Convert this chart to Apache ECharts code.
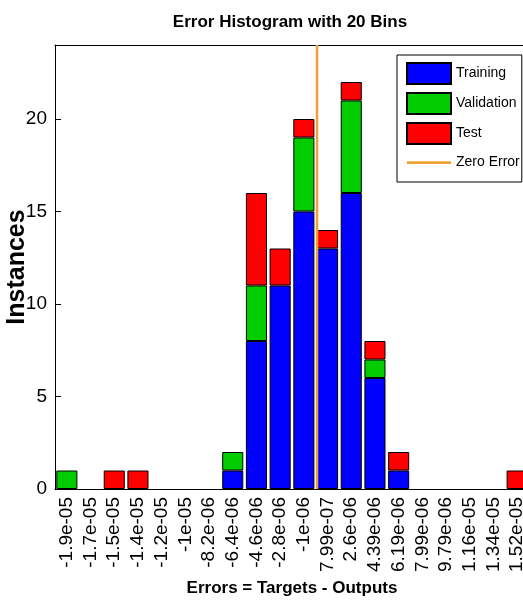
<!DOCTYPE html>
<html>
<head>
<meta charset="utf-8">
<script src="https://cdn.jsdelivr.net/npm/echarts@6/dist/echarts.min.js"></script>
<style>
  html, body { margin: 0; padding: 0; background: #fff; }
  #chart { width: 523px; height: 604px; }
</style>
</head>
<body>
<div id="chart"></div>
<script>
// Bin centres of the error histogram (as printed on the axis)
const binLabels = ['-1.9e-05', '-1.7e-05', '-1.5e-05', '-1.4e-05', '-1.2e-05', '-1e-05', '-8.2e-06',
  '-6.4e-06', '-4.6e-06', '-2.8e-06', '-1e-06', '7.99e-07', '2.6e-06', '4.39e-06', '6.19e-06',
  '7.99e-06', '9.79e-06', '1.16e-05', '1.34e-05', '1.52e-05'];

// Instances per bin for each data split
const training   = [0, 0, 0, 0, 0, 0, 0, 1, 8, 11, 15, 13, 16, 6, 1, 0, 0, 0, 0, 0];
const validation = [1, 0, 0, 0, 0, 0, 0, 1, 3, 0, 4, 0, 5, 1, 0, 0, 0, 0, 0, 0];
const test       = [0, 0, 1, 1, 0, 0, 0, 0, 5, 2, 1, 1, 1, 1, 1, 0, 0, 0, 0, 1];

const yTicks = [0, 5, 10, 15, 20];
const yMax = 24;
const zeroError = 0;

// Position of the zero-error value in bin-index units (interpolated between bin centres)
const centres = binLabels.map(Number);
let zeroPos = 0;
for (let i = 0; i < centres.length - 1; i++) {
  if (centres[i] <= zeroError && zeroError < centres[i + 1]) {
    zeroPos = i + (zeroError - centres[i]) / (centres[i + 1] - centres[i]);
    break;
  }
}

const font = '"Liberation Sans", Arial, sans-serif';
const orange = '#eea236';

const bar = (name, values, color) => ({
  name, type: 'bar', stack: 'split',
  xAxisIndex: 0, yAxisIndex: 0,
  barCategoryGap: '11%',
  data: values.map(v => (v === 0 ? '-' : v)),
  itemStyle: { color, borderColor: '#000', borderWidth: 1 },
  emphasis: { disabled: true },
  animation: false
});

const chart = echarts.init(document.getElementById('chart'), null, { renderer: 'canvas' });

chart.setOption({
  animation: false,
  title: {
    text: 'Error Histogram with 20 Bins',
    left: 285, top: 9, textAlign: 'center',
    textStyle: { fontFamily: font, fontSize: 17, fontWeight: 'bold', color: '#000' }
  },
  legend: {
    orient: 'vertical',
    left: 397, top: 55,
    padding: [7, 2, 9, 9],
    itemWidth: 44, itemHeight: 21, itemGap: 7,
    backgroundColor: '#fff',
    borderColor: '#000', borderWidth: 1, borderRadius: 0,
    textStyle: { fontFamily: font, fontSize: 14, color: '#000' },
    data: [
      { name: 'Training', icon: 'rect' },
      { name: 'Validation', icon: 'rect' },
      { name: 'Test', icon: 'rect' },
      // thin horizontal stroke centred in a 44x21 box
      { name: 'Zero Error', icon: 'path://M0,0h0.01v0.01h-0.01z M0,9.3h44v2.6h-44z M43.99,20.99h0.01v0.01h-0.01z' }
    ]
  },
  grid: { left: 55, top: 45, width: 474, height: 444, outerBoundsMode: 'none', containLabel: false },
  xAxis: [
    {
      type: 'category', position: 'bottom', data: binLabels,
      name: 'Errors = Targets - Outputs', nameLocation: 'middle', nameGap: 91,
      nameMoveOverlap: false,
      nameTextStyle: { fontFamily: font, fontSize: 17, fontWeight: 'bold', color: '#000' },
      axisLine: { onZero: false, lineStyle: { color: '#000', width: 1 } },
      axisTick: { inside: true, alignWithLabel: true, length: 6, lineStyle: { color: '#000' } },
      axisLabel: { rotate: 90, interval: 0, margin: 8, fontFamily: font, fontSize: 19, color: '#000' },
      splitLine: { show: false }
    },
    {
      type: 'category', position: 'top', data: binLabels,
      axisLine: { onZero: false, lineStyle: { color: '#000', width: 1 } },
      axisTick: { inside: true, alignWithLabel: true, length: 6, lineStyle: { color: '#000' } },
      axisLabel: { show: false },
      splitLine: { show: false }
    },
    {
      type: 'value', min: -0.5, max: binLabels.length - 0.5, show: false
    }
  ],
  yAxis: [{
    type: 'value', min: 0, max: yMax, interval: yTicks[1] - yTicks[0],
    name: 'Instances', nameLocation: 'middle', nameGap: 25,
    nameMoveOverlap: false,
    nameTextStyle: { fontFamily: font, fontSize: 25, fontWeight: 'bold', color: '#000' },
    axisLine: { show: true, onZero: false, lineStyle: { color: '#000', width: 1 } },
    axisTick: { inside: true, length: 6, lineStyle: { color: '#000' } },
    axisLabel: {
      fontFamily: font, fontSize: 19, color: '#000', margin: 8,
      showMaxLabel: false,
      formatter: v => (yTicks.includes(v) ? String(v) : '')
    },
    splitLine: { show: false }
  }],
  series: [
    bar('Training', training, '#0000ff'),
    bar('Validation', validation, '#00cc00'),
    bar('Test', test, '#ff0000'),
    {
      name: 'Zero Error', type: 'line',
      xAxisIndex: 2, yAxisIndex: 0,
      symbol: 'none', z: 5,
      data: [[zeroPos, 0], [zeroPos, yMax]],
      lineStyle: { color: orange, width: 2.5 },
      itemStyle: { color: orange },
      emphasis: { disabled: true },
      animation: false
    }
  ]
});
</script>
</body>
</html>
